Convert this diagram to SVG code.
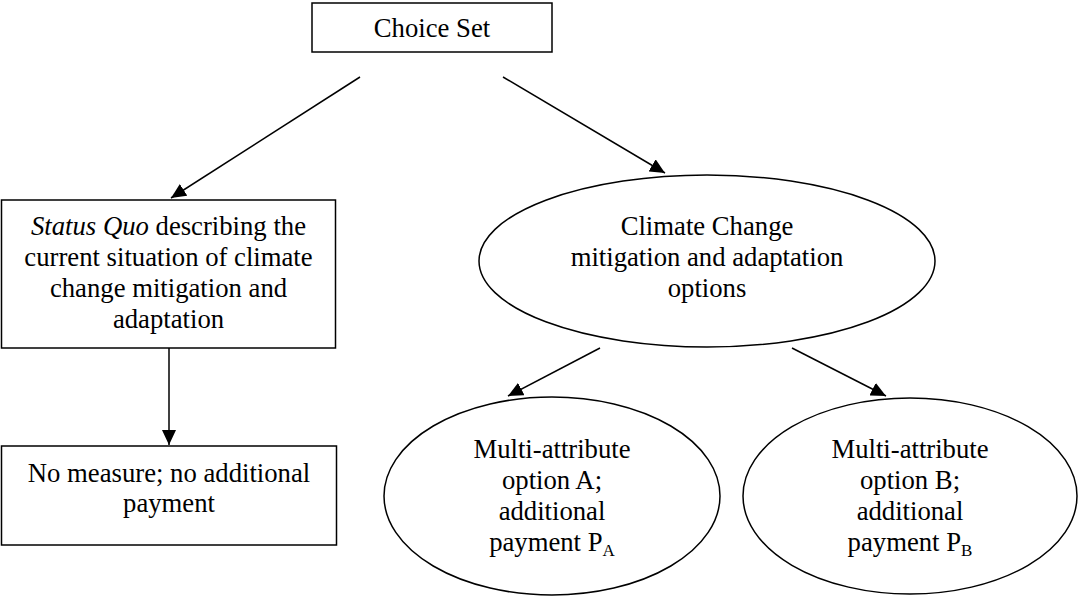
<svg xmlns="http://www.w3.org/2000/svg" width="1081" height="599" viewBox="0 0 1081 599">
<style>
  .box { fill: #ffffff; stroke: #000000; stroke-width: 1.5; }
  .lbl { font-family: "Liberation Serif", "Times New Roman", serif; font-size: 26.7px; fill: #000000; text-anchor: middle; }
  .sub { font-size: 17px; }
  .conn { stroke: #000000; stroke-width: 1.5; fill: none; marker-end: url(#arrow); }
</style>
<defs>
  <marker id="arrow" markerUnits="userSpaceOnUse" markerWidth="16" markerHeight="14" refX="15" refY="7" orient="auto">
    <path d="M0,0 L15,7 L0,14 z" fill="#000000"/>
  </marker>
</defs>
<rect width="1081" height="599" fill="#ffffff"/>
<g id="connectors">
  <line class="conn" x1="360" y1="77" x2="171" y2="198"/>
  <line class="conn" x1="503" y1="77" x2="665" y2="173"/>
  <line class="conn" x1="169" y1="348" x2="169" y2="445"/>
  <line class="conn" x1="600" y1="348" x2="508" y2="396"/>
  <line class="conn" x1="792" y1="348" x2="886" y2="396"/>
</g>
<g id="choice-set">
  <rect class="box" x="312" y="3" width="240" height="49"/>
  <text class="lbl" x="432" y="37">Choice Set</text>
</g>
<g id="status-quo">
  <rect class="box" x="1.5" y="200" width="334" height="148"/>
  <text class="lbl" x="168.5" y="235"><tspan font-style="italic">Status Quo</tspan> describing the</text>
  <text class="lbl" x="168.5" y="266">current situation of climate</text>
  <text class="lbl" x="168.5" y="297">change mitigation and</text>
  <text class="lbl" x="168.5" y="328">adaptation</text>
</g>
<g id="no-measure">
  <rect class="box" x="1.5" y="446" width="335" height="99"/>
  <text class="lbl" x="169" y="482">No measure; no additional</text>
  <text class="lbl" x="169" y="512">payment</text>
</g>
<g id="climate-change">
  <ellipse class="box" cx="707" cy="261" rx="228" ry="86"/>
  <text class="lbl" x="707" y="235">Climate Change</text>
  <text class="lbl" x="707" y="266">mitigation and adaptation</text>
  <text class="lbl" x="707" y="297">options</text>
</g>
<g id="option-a">
  <ellipse class="box" cx="552" cy="496" rx="168" ry="99"/>
  <text class="lbl" x="552" y="458">Multi-attribute</text>
  <text class="lbl" x="552" y="489">option A;</text>
  <text class="lbl" x="552" y="520">additional</text>
  <text class="lbl" x="552" y="551">payment P<tspan class="sub" dy="5">A</tspan></text>
</g>
<g id="option-b">
  <ellipse class="box" cx="910" cy="496" rx="167" ry="98"/>
  <text class="lbl" x="910" y="458">Multi-attribute</text>
  <text class="lbl" x="910" y="489">option B;</text>
  <text class="lbl" x="910" y="520">additional</text>
  <text class="lbl" x="910" y="551">payment P<tspan class="sub" dy="5">B</tspan></text>
</g>
</svg>
